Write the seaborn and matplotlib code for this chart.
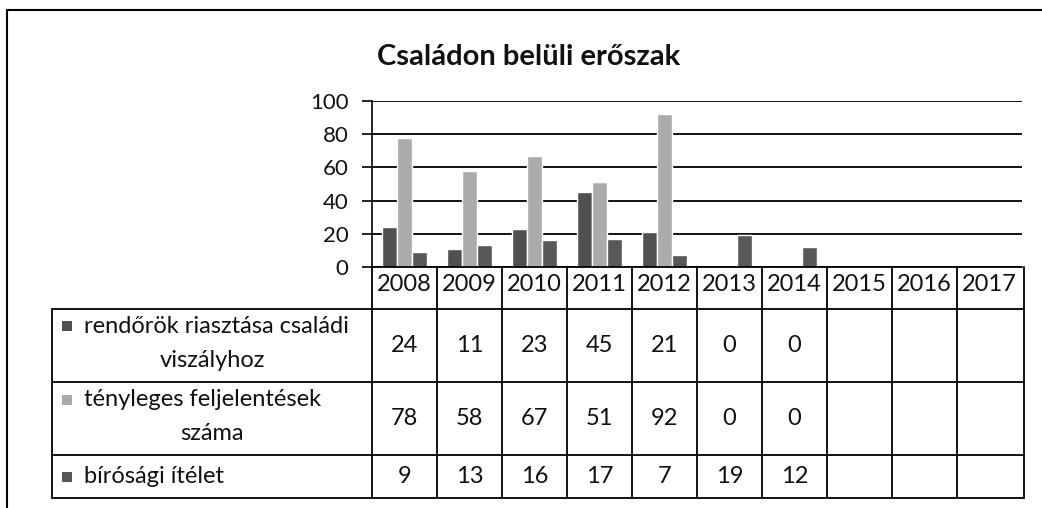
import numpy as np
import pandas as pd
import seaborn as sns
import matplotlib.pyplot as plt
from matplotlib.lines import Line2D
from matplotlib.patches import Rectangle

years = ['2008', '2009', '2010', '2011', '2012', '2013', '2014', '2015', '2016', '2017']
rendorok = [24, 11, 23, 45, 21, 0, 0, np.nan, np.nan, np.nan]
feljelentesek = [78, 58, 67, 51, 92, 0, 0, np.nan, np.nan, np.nan]
itelet = [9, 13, 16, 17, 7, 19, 12, np.nan, np.nan, np.nan]
series_names = ['rendőrök riasztása családi\nviszályhoz',
                'tényleges feljelentések\nszáma',
                'bírósági ítélet']
colors = ['#505050', '#ababab', '#585858']
title = 'Családon belüli erőszak'

df = pd.DataFrame({
    'year': years * 3,
    'value': rendorok + feljelentesek + itelet,
    'series': [s for s in series_names for _ in years],
})

sns.set_style('white')
plt.rcParams['font.family'] = ['Lato', 'DejaVu Sans']
plt.rcParams['text.color'] = '#111111'

W, H = 1042, 508
fig = plt.figure(figsize=(W / 100, H / 100), dpi=100)

def fx(px):
    return px / W

def fy(py):
    return 1 - py / H

# chart area
ax = fig.add_axes([fx(372), fy(267), fx(1022) - fx(372), fy(101) - fy(267)])
sns.barplot(data=df, x='year', y='value', hue='series', order=years,
            hue_order=series_names, palette=colors, width=0.7, gap=0,
            legend=False, ax=ax, errorbar=None)
ax.set_xlim(-0.5, len(years) - 0.5)
ax.set_ylim(0, 100)
ax.set_yticks(range(0, 101, 20))
ax.set_xticks([])
ax.set_xlabel('')
ax.set_ylabel('')
for y in range(0, 101, 20):
    ax.axhline(y, color='black', lw=1.3, zorder=0)
for s in ['top', 'right', 'bottom']:
    ax.spines[s].set_visible(False)
ax.spines['left'].set_color('black')
ax.spines['left'].set_linewidth(1.2)
ax.tick_params(axis='y', left=True, length=7, width=1.2, color='black',
               labelsize=16, labelcolor='#111111', pad=10)
fig.text(fx(529), fy(57), title, ha='center', va='center',
         fontsize=21, fontweight='bold')

# data table under the chart
tab = fig.add_axes([fx(372), fy(498), fx(1022) - fx(372), fy(267) - fy(498)])
tab.set_xlim(-0.5, len(years) - 0.5)
tab.set_ylim(498, 267)
tab.axis('off')
unit = (1022 - 372) / len(years)
x_lab = -0.5 - (372 - 52) / unit
rows = [309, 382, 455, 498]
lw = 1.3
fs = 17
tab.plot([-0.5, len(years) - 0.5], [267, 267], color='black', lw=lw, clip_on=False)
for r in rows:
    tab.plot([x_lab, len(years) - 0.5 + 0.03], [r, r], color='black', lw=lw, clip_on=False)
for i in range(len(years) + 1):
    xx = -0.5 + i if i < len(years) else len(years) - 0.5 + 0.03
    tab.plot([xx, xx], [267, 498], color='black', lw=lw, clip_on=False)
tab.plot([x_lab, x_lab], [309, 498], color='black', lw=lw, clip_on=False)

for i, yr in enumerate(years):
    tab.text(i, 285, yr, ha='center', va='center', fontsize=fs)

values = [rendorok, feljelentesek, itelet]
for k, (name, vals) in enumerate(zip(series_names, values)):
    top, bot = rows[k], rows[k + 1]
    yc = (top + bot) / 2
    for i, v in enumerate(vals):
        if not np.isnan(v):
            tab.text(i, yc, f'{int(v)}', ha='center', va='center', fontsize=fs)
    lines = name.split('\n')
    x_txt = x_lab + (84 - 52) / unit
    x_mid = (x_lab - 0.5) / 2
    if len(lines) == 2:
        y1, y2 = yc - 19, yc + 15
    else:
        y1 = yc
    tab.text(x_txt, y1, lines[0], ha='left', va='center', fontsize=fs, clip_on=False)
    tab.add_patch(Rectangle((x_lab + (62 - 52) / unit, y1 - 5), 10 / unit, 10,
                            facecolor=colors[k], edgecolor='none', clip_on=False))
    if len(lines) == 2:
        tab.text(x_mid, y2, lines[1], ha='center', va='center', fontsize=fs, clip_on=False)

# outer frame of the scanned chart
fig.add_artist(Line2D([fx(7), 1], [fy(10), fy(10)], color='black', lw=1.5))
fig.add_artist(Line2D([fx(7), fx(7)], [fy(10), 0], color='black', lw=1.5))

fig.savefig('out.png', dpi=100)
